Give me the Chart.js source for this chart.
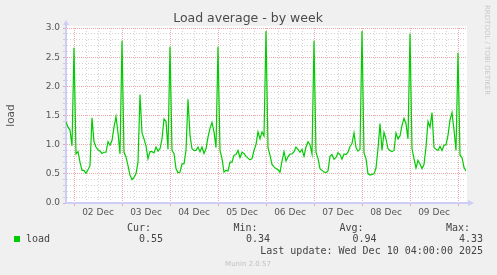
<!DOCTYPE html>
<html>
<head>
<meta charset="utf-8">
<script src="https://cdn.jsdelivr.net/npm/chart.js@4"></script>
<style>
  html, body { margin: 0; padding: 0; background: #f0f0f0; }
  #grafico { display: block; }
</style>
</head>
<body>
<canvas id="grafico" width="497" height="275"></canvas>
<script>
  // hours counted from 01 Dec 00:00, one sample per hour
  const startHour = 20;
  const endHour = 220;
  const loadValues = [
    1.39, 1.30, 1.25, 0.98, 2.66, 0.84, 0.88, 0.70, 0.56, 0.56,
    0.51, 0.57, 0.64, 1.46, 1.05, 0.96, 0.91, 0.89, 0.85, 0.87,
    0.87, 1.05, 0.99, 1.07, 1.30, 1.48, 1.20, 0.84, 2.78, 0.87,
    0.79, 0.64, 0.48, 0.40, 0.44, 0.50, 0.70, 1.86, 1.20, 1.10,
    0.98, 0.76, 0.88, 0.88, 0.86, 0.96, 0.89, 0.93, 1.10, 1.44,
    1.40, 0.92, 2.68, 0.90, 0.85, 0.59, 0.52, 0.53, 0.67, 0.67,
    0.90, 1.78, 1.16, 0.93, 0.90, 0.90, 0.96, 0.88, 0.96, 0.85,
    0.93, 1.13, 1.28, 1.38, 1.22, 0.95, 2.68, 0.90, 0.76, 0.53,
    0.56, 0.55, 0.70, 0.70, 0.82, 0.83, 0.90, 0.78, 0.87, 0.85,
    0.80, 0.77, 0.74, 0.76, 0.90, 1.00, 1.22, 1.10, 1.22, 1.15,
    2.95, 0.95, 0.82, 0.66, 0.62, 0.59, 0.57, 0.53, 0.72, 0.88,
    0.72, 0.79, 0.84, 0.84, 0.88, 0.96, 0.92, 0.87, 0.92, 0.80,
    0.96, 1.05, 1.00, 0.84, 2.78, 0.87, 0.76, 0.59, 0.56, 0.53,
    0.52, 0.55, 0.80, 0.83, 0.75, 0.78, 0.86, 0.83, 0.75, 0.84,
    0.83, 0.87, 0.97, 1.02, 1.20, 0.95, 0.89, 0.92, 2.95, 0.86,
    0.76, 0.50, 0.48, 0.49, 0.50, 0.60, 0.93, 1.36, 0.90, 1.21,
    1.10, 0.93, 0.90, 0.88, 0.90, 1.20, 1.10, 1.15, 1.33, 1.45,
    1.36, 1.10, 2.90, 0.93, 0.76, 0.60, 0.73, 0.67, 0.59, 0.66,
    0.96, 1.40, 1.30, 1.55, 0.95, 0.92, 0.90, 0.97, 0.90, 0.99,
    1.00, 1.16, 1.42, 1.55, 1.25, 0.90, 2.57, 0.82, 0.78, 0.61,
    0.55
  ];
  const dayLabels = ['02 Dec', '03 Dec', '04 Dec', '05 Dec', '06 Dec', '07 Dec', '08 Dec', '09 Dec'];
  const statLabels = ['Cur:', 'Min:', 'Avg:', 'Max:'];
  const statValues = ['0.55', '0.34', '0.94', '4.33'];
  const lastUpdate = 'Last update: Wed Dec 10 04:00:00 2025';

  const pontos = loadValues.map((v, i) => ({ x: startHour + i, y: v }));

  const corMajor = 'rgba(230, 110, 110, 0.6)';
  const corMinor = 'rgba(170, 170, 170, 0.5)';
  const corEixo = '#cdcdf6';

  const ehMajorX = c => c.tick && c.tick.value % 24 === 0;
  const ehMajorY = c => c.tick && Math.round(c.tick.value * 10) % 5 === 0;

  /* ── textos estilo rrdtool ── */
  const textosMunin = {
    id: 'textosMunin',
    beforeDraw(chart) {
      const { ctx, chartArea: a } = chart;
      ctx.save();
      ctx.fillStyle = '#ffffff';
      ctx.fillRect(a.left, a.top - 2, a.right - a.left + 1, a.bottom - a.top + 2);
      ctx.restore();
    },
    afterDraw(chart) {
      const { ctx, chartArea: a } = chart;
      ctx.save();
      // setas dos eixos
      ctx.fillStyle = corEixo;
      ctx.fillRect(a.left - 1, a.top - 4, 2, 4);
      ctx.fillRect(a.right, a.bottom - 1, 3, 2);
      ctx.beginPath();
      ctx.moveTo(a.left - 3, a.top - 3);
      ctx.lineTo(a.left + 3, a.top - 3);
      ctx.lineTo(a.left, a.top - 8);
      ctx.closePath();
      ctx.fill();
      ctx.beginPath();
      ctx.moveTo(a.right + 2, a.bottom - 3);
      ctx.lineTo(a.right + 2, a.bottom + 3);
      ctx.lineTo(a.right + 8, a.bottom);
      ctx.closePath();
      ctx.fill();

      // título
      ctx.fillStyle = '#4a4a4a';
      ctx.font = '12.5px "DejaVu Sans"';
      ctx.textAlign = 'center';
      ctx.textBaseline = 'middle';
      ctx.fillText('Load average - by week', 248, 19);

      // marca lateral
      ctx.save();
      ctx.translate(487, 5);
      ctx.rotate(Math.PI / 2);
      ctx.fillStyle = '#c8c8c8';
      ctx.font = '7px "DejaVu Sans"';
      ctx.textAlign = 'left';
      ctx.fillText('RRDTOOL / TOBI OETIKER', 0, 0);
      ctx.restore();

      // legenda
      ctx.font = '10px "DejaVu Sans Mono"';
      ctx.fillStyle = '#00cc00';
      ctx.fillRect(14, 236, 6, 6);
      ctx.fillStyle = '#444';
      ctx.textAlign = 'left';
      ctx.fillText('load', 26, 239);
      const colX = [127, 233.5, 339.5, 446];
      const valX = [163, 270, 376.5, 483];
      statLabels.forEach((t, i) => {
        ctx.textAlign = 'left';
        ctx.fillText(t, colX[i], 228);
        ctx.textAlign = 'right';
        ctx.fillText(statValues[i], valX[i], 239);
      });
      ctx.textAlign = 'right';
      ctx.fillText(lastUpdate, 483, 251);

      ctx.fillStyle = '#c0c0c0';
      ctx.font = '7px "DejaVu Sans"';
      ctx.textAlign = 'center';
      ctx.fillText('Munin 2.0.57', 248, 264);
      ctx.restore();
    }
  };

  new Chart(document.getElementById('grafico'), {
    type: 'line',
    data: {
      datasets: [{
        label: 'load',
        data: pontos,
        borderColor: '#00cc00',
        borderWidth: 1.2,
        pointRadius: 0,
        tension: 0,
        fill: false
      }]
    },
    options: {
      responsive: false,
      animation: false,
      devicePixelRatio: 1,
      layout: { padding: { left: 0, top: 28, right: 31, bottom: 52 } },
      plugins: {
        legend: { display: false },
        tooltip: { enabled: false }
      },
      scales: {
        x: {
          type: 'linear',
          min: startHour,
          max: endHour,
          afterBuildTicks(s) {
            const t = [];
            for (let h = 24; h <= 216; h += 6) t.push({ value: h });
            s.ticks = t;
          },
          afterFit(s) { s.height = 20; },
          ticks: {
            autoSkip: false,
            maxRotation: 0,
            padding: 1,
            color: '#555',
            font: { family: 'DejaVu Sans', size: 9 },
            callback: v => (v % 24 === 12 ? dayLabels[(v - 36) / 24] : '')
          },
          grid: {
            color: c => (ehMajorX(c) ? corMajor : corMinor),
            tickColor: c => (ehMajorX(c) ? corMajor : 'rgba(0,0,0,0)'),
            tickLength: 3
          },
          border: { color: corEixo, width: 2, dash: c => (ehMajorX(c) ? [1, 1] : [1, 2]) }
        },
        y: {
          min: 0,
          max: 3,
          afterBuildTicks(s) {
            const t = [];
            for (let i = 0; i <= 30; i++) t.push({ value: i / 10 });
            s.ticks = t;
          },
          afterFit(s) { s.width = 66; },
          ticks: {
            autoSkip: false,
            padding: 3,
            color: '#555',
            font: { family: 'DejaVu Sans', size: 9 },
            callback: v => (Math.round(v * 10) % 5 === 0 ? v.toFixed(1) : '')
          },
          grid: {
            color: c => (ehMajorY(c) ? corMajor : corMinor),
            tickLength: 3
          },
          border: { color: corEixo, width: 2, dash: c => (ehMajorY(c) ? [1, 1] : [1, 2]) },
          title: {
            display: true,
            text: 'load',
            color: '#555',
            font: { family: 'DejaVu Sans', size: 10.5 },
            padding: { top: 5, bottom: 0 }
          }
        }
      }
    },
    plugins: [textosMunin]
  });
</script>
</body>
</html>
